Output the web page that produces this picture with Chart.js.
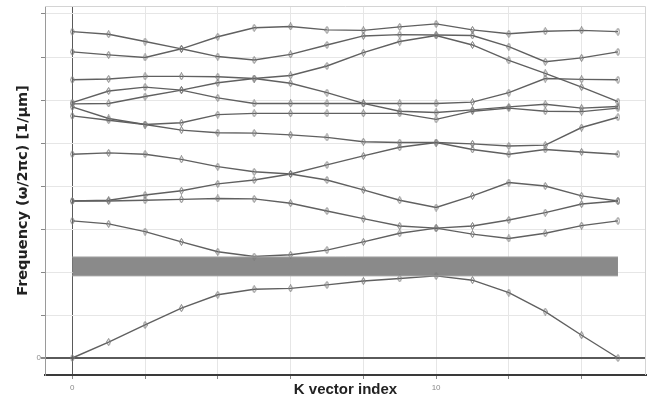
<!DOCTYPE html>
<html>
<head>
<meta charset="utf-8">
<script src="https://cdn.jsdelivr.net/npm/chart.js@4/dist/chart.umd.min.js"></script>
<style>
    body { margin: 0; background: #fff; }
    #wrap { width: 653px; height: 400px; position: relative; }
</style>
</head>
<body>
<div id="wrap"><canvas id="bandChart"></canvas></div>
<script>
// K vector index (x) and band frequencies (y)
var kIndex = [0, 1, 2, 3, 4, 5, 6, 7, 8, 9, 10, 11, 12, 13, 14, 15];
var band1 = [0, 0.037, 0.077, 0.116, 0.147, 0.160, 0.162, 0.170, 0.179, 0.185, 0.191, 0.181, 0.152, 0.108, 0.053, 0];
var band2 = [0.319, 0.312, 0.294, 0.270, 0.247, 0.236, 0.240, 0.251, 0.270, 0.290, 0.302, 0.288, 0.278, 0.290, 0.308, 0.319];
var band3 = [0.365, 0.365, 0.367, 0.369, 0.371, 0.370, 0.360, 0.342, 0.324, 0.307, 0.302, 0.307, 0.321, 0.338, 0.358, 0.365];
var band4 = [0.365, 0.367, 0.379, 0.389, 0.405, 0.414, 0.428, 0.414, 0.391, 0.367, 0.350, 0.377, 0.408, 0.400, 0.377, 0.365];
var band5 = [0.474, 0.477, 0.474, 0.462, 0.445, 0.433, 0.428, 0.449, 0.470, 0.490, 0.501, 0.485, 0.474, 0.485, 0.479, 0.474];
var band6 = [0.563, 0.553, 0.543, 0.530, 0.524, 0.523, 0.519, 0.513, 0.503, 0.501, 0.501, 0.498, 0.493, 0.495, 0.536, 0.560];
var band7 = [0.584, 0.557, 0.543, 0.547, 0.566, 0.569, 0.569, 0.569, 0.569, 0.569, 0.555, 0.574, 0.581, 0.574, 0.573, 0.581];
var band8 = [0.591, 0.592, 0.608, 0.623, 0.605, 0.592, 0.592, 0.592, 0.592, 0.592, 0.592, 0.595, 0.617, 0.650, 0.648, 0.647];
var band9 = [0.647, 0.649, 0.655, 0.655, 0.654, 0.650, 0.639, 0.617, 0.592, 0.574, 0.571, 0.577, 0.584, 0.590, 0.581, 0.585];
var band10 = [0.594, 0.621, 0.630, 0.623, 0.640, 0.650, 0.657, 0.679, 0.710, 0.736, 0.750, 0.728, 0.692, 0.662, 0.630, 0.596];
var band11 = [0.712, 0.705, 0.699, 0.719, 0.701, 0.693, 0.706, 0.728, 0.749, 0.752, 0.751, 0.750, 0.724, 0.689, 0.698, 0.712];
var band12 = [0.759, 0.753, 0.736, 0.719, 0.747, 0.768, 0.771, 0.763, 0.762, 0.770, 0.777, 0.763, 0.754, 0.760, 0.762, 0.759];
var bands = [band1, band2, band3, band4, band5, band6, band7, band8, band9, band10, band11, band12];

// band gap (grey bar)
var gapK = [0, 15];
var gapBottom = [0.191, 0.191];
var gapTop = [0.235, 0.235];

// grid / tick labels
var xGridValues = [0, 2, 4, 6, 8, 10, 12, 14];
var xLabeled = [0, 10];
var yGridValues = [0, 0.1, 0.2, 0.3, 0.4, 0.5, 0.6, 0.7, 0.8];
var yLabeled = [0];

function toPoints(xs, ys) {
    return xs.map(function(x, i) { return { x: x, y: ys[i] }; });
}

// small vertical diamond used as point marker
function makeMarker() {
    var c = document.createElement('canvas');
    c.width = 5;
    c.height = 8;
    var g = c.getContext('2d');
    g.strokeStyle = '#7a7a7a';
    g.lineWidth = 1;
    g.beginPath();
    g.moveTo(2.5, 0.5);
    g.lineTo(4.5, 4);
    g.lineTo(2.5, 7.5);
    g.lineTo(0.5, 4);
    g.closePath();
    g.stroke();
    return c;
}
var marker = makeMarker();

var datasets = [];
datasets.push({
    label: 'gapBottom',
    data: toPoints(gapK, gapBottom),
    borderColor: '#a4a4a4',
    borderWidth: 1,
    pointRadius: 0,
    fill: false
});
datasets.push({
    label: 'gapTop',
    data: toPoints(gapK, gapTop),
    borderColor: '#a4a4a4',
    borderWidth: 1,
    pointRadius: 0,
    backgroundColor: '#8a8a8a',
    fill: '-1'
});
bands.forEach(function(b, i) {
    datasets.push({
        label: 'band' + (i + 1),
        data: toPoints(kIndex, b),
        borderColor: '#606060',
        borderWidth: 1.4,
        pointStyle: marker,
        pointRadius: 3,
        tension: 0,
        fill: false
    });
});

// top and right frame of the plot area
var framePlugin = {
    id: 'frame',
    afterDraw: function(chart) {
        var a = chart.chartArea;
        var ctx = chart.ctx;
        ctx.save();
        ctx.strokeStyle = '#d4d4d4';
        ctx.lineWidth = 1;
        ctx.beginPath();
        ctx.moveTo(a.left, a.top + 0.5);
        ctx.lineTo(a.right - 0.5, a.top + 0.5);
        ctx.lineTo(a.right - 0.5, a.bottom);
        ctx.stroke();
        ctx.restore();
    }
};

var options = {
    responsive: true,
    maintainAspectRatio: false,
    animation: false,
    layout: { padding: { top: 6, right: 7, left: 0, bottom: 0 } },
    plugins: {
        legend: { display: false },
        tooltip: { enabled: false },
        filler: { drawTime: 'beforeDatasetsDraw' }
    },
    scales: {
        x: {
            type: 'linear',
            min: -0.75,
            max: 15.77,
            afterBuildTicks: function(scale) {
                scale.ticks = xGridValues.map(function(v) { return { value: v }; });
            },
            afterFit: function(scale) { scale.height = 25; },
            ticks: {
                padding: 4,
                color: '#8a8a8a',
                font: { size: 8 },
                callback: function(value) {
                    return xLabeled.indexOf(value) >= 0 ? String(value) : '';
                }
            },
            grid: {
                color: function(ctx) { return ctx.tick && ctx.tick.value === 0 ? '#5a5a5a' : '#e6e6e6'; },
                lineWidth: 1,
                tickLength: 4,
                tickColor: '#888'
            },
            border: { color: '#3a3a3a', width: 2 },
            title: {
                display: true,
                text: 'K vector index',
                color: '#222',
                font: { family: '"Liberation Sans", Arial, sans-serif', size: 15, weight: 'bold' },
                padding: { top: 0, bottom: 1 }
            }
        },
        y: {
            type: 'linear',
            min: -0.0395,
            max: 0.8186,
            afterBuildTicks: function(scale) {
                scale.ticks = yGridValues.map(function(v) { return { value: v }; });
            },
            afterFit: function(scale) { scale.width = 45; },
            ticks: {
                padding: 0,
                color: '#8a8a8a',
                font: { size: 8 },
                callback: function(value) {
                    return yLabeled.indexOf(value) >= 0 ? String(value) : '';
                }
            },
            grid: {
                color: function(ctx) { return ctx.tick && ctx.tick.value === 0 ? '#5a5a5a' : '#e6e6e6'; },
                lineWidth: function(ctx) { return ctx.tick && ctx.tick.value === 0 ? 2 : 1; },
                tickLength: 4,
                tickColor: '#888'
            },
            border: { color: '#9a9a9a', width: 1 },
            title: {
                display: true,
                text: 'Frequency (ω/2πc) [1/μm]',
                color: '#222',
                font: { family: '"DejaVu Sans", Verdana, sans-serif', size: 14.5, weight: 'bold' },
                padding: { top: 15, bottom: 0 }
            }
        }
    }
};

var bandChart = new Chart(document.getElementById('bandChart').getContext('2d'), {
    type: 'line',
    data: { datasets: datasets },
    options: options,
    plugins: [framePlugin]
});
</script>
</body>
</html>
